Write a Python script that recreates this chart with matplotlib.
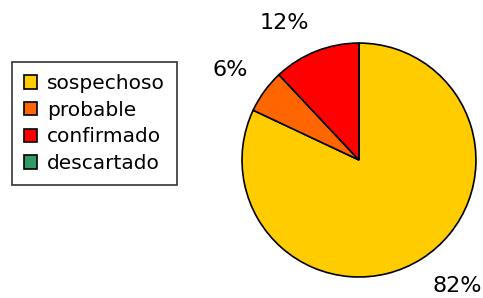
import matplotlib
matplotlib.use("Agg")
import matplotlib.pyplot as plt
import numpy as np

# Dades del gràfic
categories = ["sospechoso", "probable", "confirmado", "descartado"]
values = [82, 6, 12, 0]
colors = ["#FFCC00", "#FF6600", "#FF0000", "#339966"]

fig = plt.figure(figsize=(4.83, 2.98), dpi=100)
ax = fig.add_axes([0.501, 0.0705, 0.4845, 0.785])

wedges, _ = ax.pie(
    values, colors=colors, startangle=90, counterclock=False,
    wedgeprops=dict(edgecolor="black", linewidth=1.2),
)

# percentatges fora del pastís, ancorats per la cantonada més propera
total = sum(values)
for w, v in zip(wedges, values):
    if v == 0:
        continue
    ang = np.deg2rad((w.theta1 + w.theta2) / 2)
    c, s = np.cos(ang), np.sin(ang)
    ax.text(1.17 * c, 1.17 * s, f"{v / total * 100:.0f}%",
            ha="left" if c > 0 else "right", va="bottom" if s > 0 else "top",
            fontsize=16, clip_on=False)

ax.set_xlim(-1, 1)
ax.set_ylim(-1, 1)
ax.set_aspect("equal")
ax.axis("off")

handles = [plt.Rectangle((0, 0), 1, 1, facecolor=c, edgecolor="black", linewidth=1.2)
           for c in colors]
leg = fig.legend(handles, categories, loc="upper left", bbox_to_anchor=(0.025, 0.792),
                 borderaxespad=0, fontsize=14.5, frameon=True, fancybox=False,
                 handlelength=0.65, handleheight=0.65, handletextpad=0.5,
                 labelspacing=0.38, borderpad=0.6)
leg.get_frame().set_edgecolor("black")
leg.get_frame().set_linewidth(1.2)

fig.savefig("out.png", dpi=100)
